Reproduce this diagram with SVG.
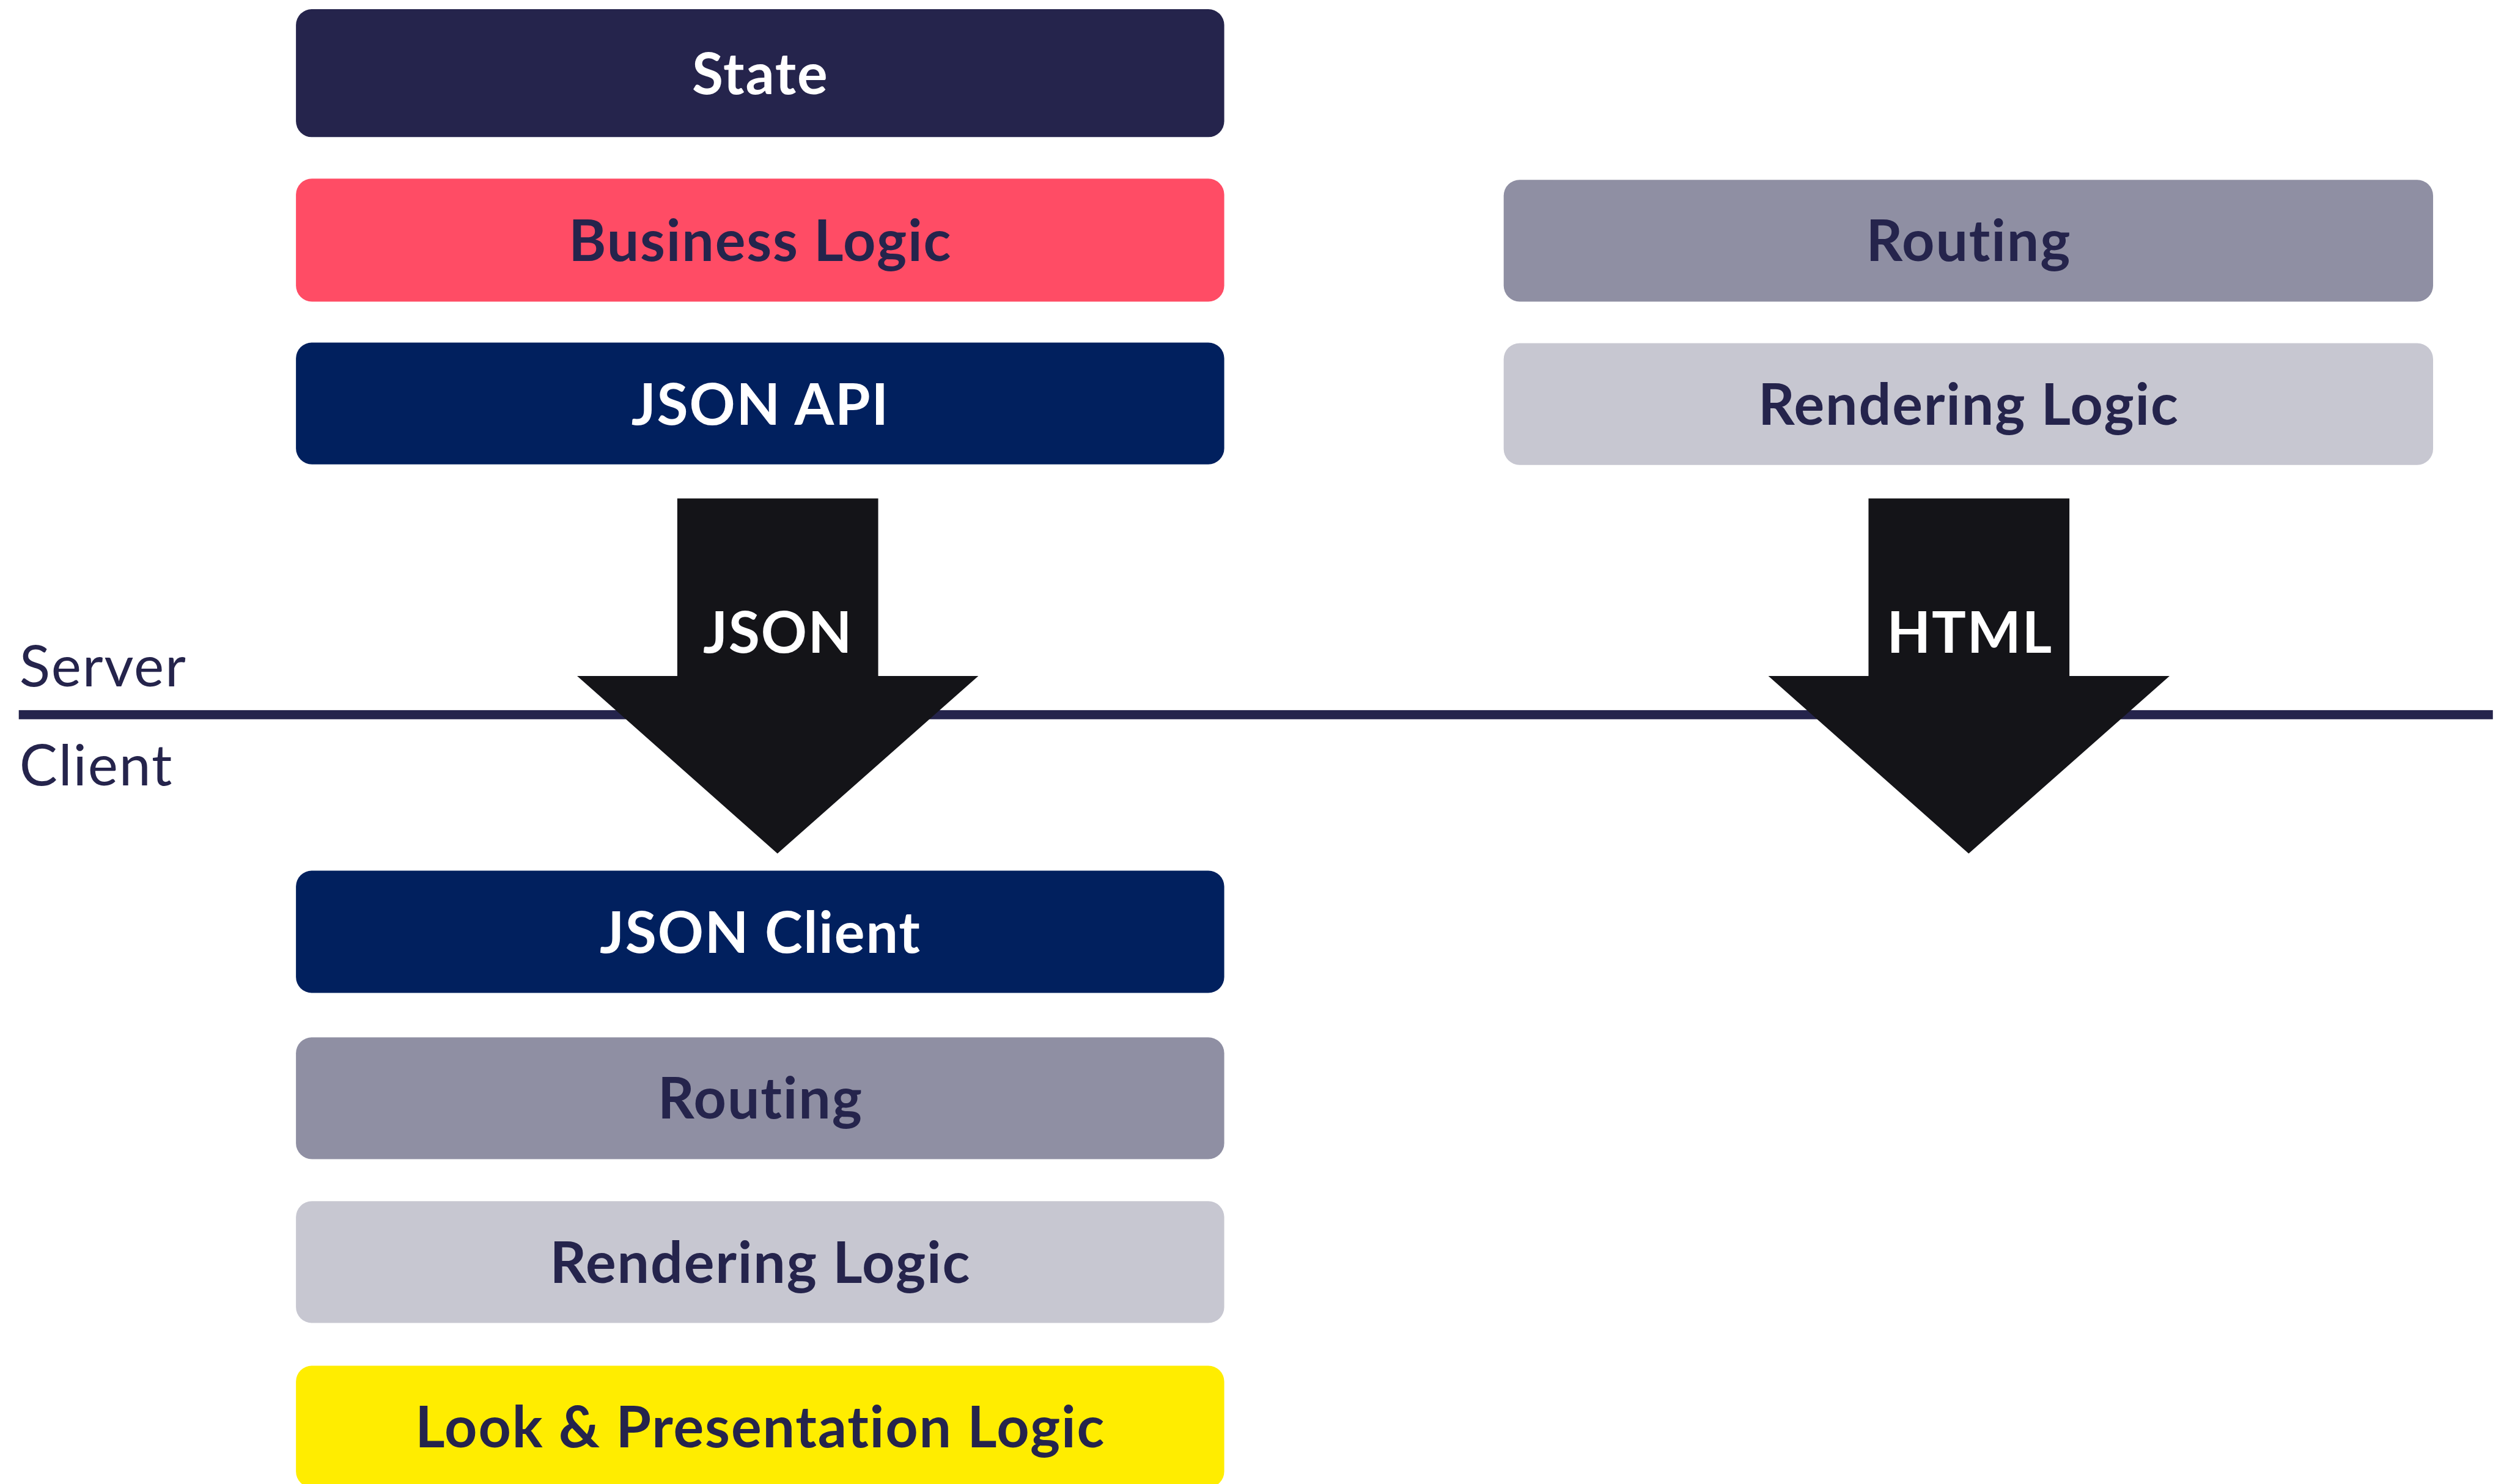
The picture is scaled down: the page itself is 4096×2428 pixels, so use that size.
<svg xmlns="http://www.w3.org/2000/svg" width="4096" height="2428" viewBox="0 0 4096 2428">
  <style>
    .box { stroke: none; }
    .lbl { font-family: "Lato", "Liberation Sans", sans-serif; font-weight: 700; font-size: 100px; letter-spacing: 2px; text-anchor: middle; }
    .light { fill: #ffffff; }
    .dark { fill: #25244c; }
    .side { font-family: "Lato", "Liberation Sans", sans-serif; font-weight: 400; font-size: 100px; letter-spacing: 2px; fill: #25244c; }
    .arrow { fill: #141418; }
  </style>
  <rect width="4096" height="2428" fill="#ffffff"/>
  <g transform="scale(0.931)">
    <!-- server / client divider -->
    <g id="divider">
      <rect x="33" y="1248" width="4347" height="16" fill="#25244c"/>
      <text class="side" x="34" y="1206">Server</text>
      <text class="side" x="34" y="1380">Client</text>
    </g>

    <!-- left stack: server side -->
    <g id="state">
      <rect class="box" x="520" y="16" width="1631" height="225" rx="28" fill="#25244c"/>
      <text class="lbl light" x="1336" y="165">State</text>
    </g>
    <g id="business-logic">
      <rect class="box" x="520" y="314" width="1631" height="216" rx="28" fill="#ff4c65"/>
      <text class="lbl dark" x="1336" y="459">Business Logic</text>
    </g>
    <g id="json-api">
      <rect class="box" x="520" y="602" width="1631" height="214" rx="28" fill="#01205e"/>
      <text class="lbl light" x="1336" y="746">JSON API</text>
    </g>

    <!-- right stack: server side -->
    <g id="server-routing">
      <rect class="box" x="2642" y="316" width="1633" height="214" rx="28" fill="#8f8fa3"/>
      <text class="lbl dark" x="3459" y="459">Routing</text>
    </g>
    <g id="server-rendering">
      <rect class="box" x="2642" y="603" width="1633" height="214" rx="28" fill="#c7c7d1"/>
      <text class="lbl dark" x="3459" y="746">Rendering Logic</text>
    </g>

    <!-- left stack: client side -->
    <g id="json-client">
      <rect class="box" x="520" y="1530" width="1631" height="215" rx="28" fill="#01205e"/>
      <text class="lbl light" x="1336" y="1675">JSON Client</text>
    </g>
    <g id="client-routing">
      <rect class="box" x="520" y="1823" width="1631" height="214" rx="28" fill="#8f8fa3"/>
      <text class="lbl dark" x="1336" y="1966">Routing</text>
    </g>
    <g id="client-rendering">
      <rect class="box" x="520" y="2111" width="1631" height="214" rx="28" fill="#c7c7d1"/>
      <text class="lbl dark" x="1336" y="2255">Rendering Logic</text>
    </g>
    <g id="look-presentation">
      <rect class="box" x="520" y="2400" width="1631" height="214" rx="28" fill="#ffed00"/>
      <text class="lbl dark" x="1336" y="2544">Look &amp; Presentation Logic</text>
    </g>

    <!-- transfer arrows crossing the divider -->
    <g id="connectors">
      <g id="json-arrow">
        <polygon class="arrow" points="1190,876 1543,876 1543,1188 1719,1188 1366,1500 1014,1188 1190,1188"/>
        <text class="lbl light" x="1367" y="1147">JSON</text>
      </g>
      <g id="html-arrow">
        <polygon class="arrow" points="3283,876 3636,876 3636,1188 3812,1188 3459,1500 3107,1188 3283,1188"/>
        <text class="lbl light" x="3461" y="1147">HTML</text>
      </g>
    </g>
  </g>
</svg>
